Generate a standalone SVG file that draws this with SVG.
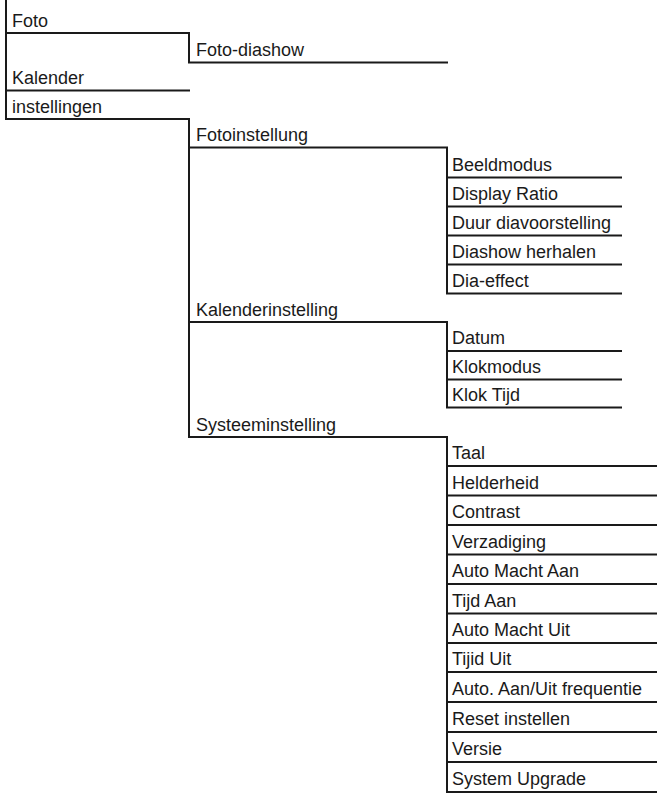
<svg xmlns="http://www.w3.org/2000/svg" width="663" height="795" viewBox="0 0 663 795">
<style>
.ln{stroke:#1a1a1a;stroke-width:2;fill:none;stroke-linecap:square}
text{font-family:"Liberation Sans",Arial,sans-serif;font-size:18px;fill:#1a1a1a}
</style>
<rect width="663" height="795" fill="#ffffff"/>
<g id="connectors" class="ln">
<path d="M6 0V119"/>
<path d="M6 33H189V62.5H447"/>
<path d="M6 90.5H189"/>
<path d="M6 119H189V437H447"/>
<path d="M189 147.5H447V293.5H621"/>
<path d="M447 177.5H621M447 206.5H621M447 235.5H621M447 264.5H621"/>
<path d="M189 322H447V407.5H621"/>
<path d="M447 351H621M447 379.5H621"/>
<path d="M447 437V792H656"/>
<path d="M447 466H656M447 495.5H656M447 525H656M447 554.5H656M447 584H656M447 613.5H656M447 643H656M447 672H656M447 702H656M447 732H656M447 762H656"/>
</g>
<g id="n-foto"><text x="12" y="27">Foto</text></g>
<g id="n-foto-diashow"><text x="196" y="56">Foto-diashow</text></g>
<g id="n-kalender"><text x="12" y="84">Kalender</text></g>
<g id="n-instellingen"><text x="12" y="112.5">instellingen</text></g>
<g id="n-fotoinstelling"><text x="196" y="141">Fotoinstellung</text></g>
<g id="n-beeldmodus"><text x="452" y="170.5">Beeldmodus</text></g>
<g id="n-display-ratio"><text x="452" y="199.5">Display Ratio</text></g>
<g id="n-duur"><text x="452" y="228.5">Duur diavoorstelling</text></g>
<g id="n-diashow-herhalen"><text x="452" y="257.5">Diashow herhalen</text></g>
<g id="n-dia-effect"><text x="452" y="286.5">Dia-effect</text></g>
<g id="n-kalenderinstelling"><text x="196" y="316">Kalenderinstelling</text></g>
<g id="n-datum"><text x="452" y="344">Datum</text></g>
<g id="n-klokmodus"><text x="452" y="372.5">Klokmodus</text></g>
<g id="n-klok-tijd"><text x="452" y="400.5">Klok Tijd</text></g>
<g id="n-systeeminstelling"><text x="196" y="431">Systeeminstelling</text></g>
<g id="n-taal"><text x="452" y="459">Taal</text></g>
<g id="n-helderheid"><text x="452" y="488.5">Helderheid</text></g>
<g id="n-contrast"><text x="452" y="518">Contrast</text></g>
<g id="n-verzadiging"><text x="452" y="547.5">Verzadiging</text></g>
<g id="n-auto-macht-aan"><text x="452" y="577">Auto Macht Aan</text></g>
<g id="n-tijd-aan"><text x="452" y="606.5">Tijd Aan</text></g>
<g id="n-auto-macht-uit"><text x="452" y="636">Auto Macht Uit</text></g>
<g id="n-tijid-uit"><text x="452" y="665">Tijid Uit</text></g>
<g id="n-auto-aan-uit"><text x="452" y="695">Auto. Aan/Uit frequentie</text></g>
<g id="n-reset"><text x="452" y="725">Reset instellen</text></g>
<g id="n-versie"><text x="452" y="755">Versie</text></g>
<g id="n-system-upgrade"><text x="452" y="785">System Upgrade</text></g>
</svg>
